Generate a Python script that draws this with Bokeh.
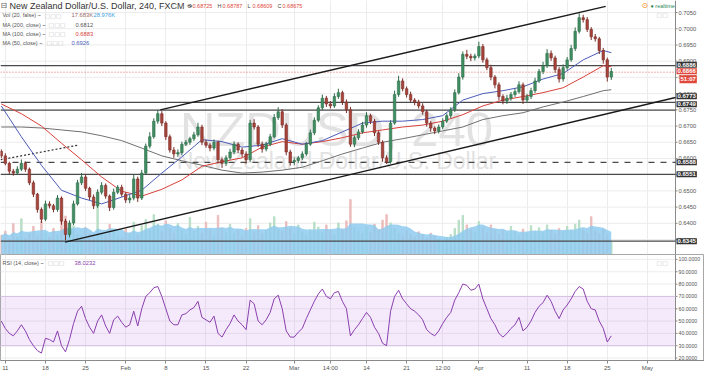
import pandas as pd
from bokeh.plotting import figure
from bokeh.layouts import column
from bokeh.models import Range1d, FixedTicker, Label, BoxAnnotation
from bokeh.core.properties import value
from bokeh.embed import file_html
from bokeh.resources import INLINE

# ---------------- data (12h candles) ----------------
first_open = 0.6622
closes = [
    0.6608, 0.6585, 0.6561, 0.6555, 0.6567, 0.6585, 0.6567, 0.6525, 0.6490, 0.6443,
    0.6413, 0.6460, 0.6454, 0.6443, 0.6478, 0.6407, 0.6366, 0.6401, 0.6460, 0.6525,
    0.6543, 0.6508, 0.6481, 0.6454, 0.6496, 0.6517, 0.6484, 0.6449, 0.6496, 0.6511,
    0.6490, 0.6472, 0.6478, 0.6537, 0.6478, 0.6555, 0.6638, 0.6667, 0.6715, 0.6738,
    0.6709, 0.6667, 0.6626, 0.6614, 0.6618, 0.6644, 0.6650, 0.6661, 0.6673, 0.6697,
    0.6650, 0.6641, 0.6632, 0.6650, 0.6596, 0.6585, 0.6602, 0.6620, 0.6644, 0.6626,
    0.6614, 0.6596, 0.6709, 0.6697, 0.6644, 0.6629, 0.6644, 0.6667, 0.6726, 0.6744,
    0.6703, 0.6620, 0.6590, 0.6594, 0.6602, 0.6614, 0.6644, 0.6679, 0.6718, 0.6756,
    0.6786, 0.6768, 0.6762, 0.6791, 0.6803, 0.6774, 0.6750, 0.6644, 0.6664, 0.6682,
    0.6703, 0.6732, 0.6715, 0.6679, 0.6650, 0.6602, 0.6590, 0.6709, 0.6797, 0.6839,
    0.6815, 0.6797, 0.6780, 0.6774, 0.6762, 0.6744, 0.6709, 0.6694, 0.6685, 0.6697,
    0.6715, 0.6732, 0.6750, 0.6803, 0.6851, 0.6921, 0.6915, 0.6910, 0.6916, 0.6945,
    0.6904, 0.6880, 0.6851, 0.6827, 0.6791, 0.6777, 0.6786, 0.6797, 0.6806, 0.6827,
    0.6780, 0.6791, 0.6809, 0.6839, 0.6868, 0.6886, 0.6924, 0.6910, 0.6874, 0.6845,
    0.6880, 0.6904, 0.6939, 0.6992, 0.7034, 0.7028, 0.6998, 0.6975, 0.6969, 0.6933,
    0.6904, 0.6851, 0.6868,
]
wick_up_pips = [
    6, 8, 5, 7, 9, 12, 6, 5, 7, 4,
    6, 10, 8, 6, 9, 5, 7, 8, 10, 9,
    12, 6, 5, 8, 9, 10, 6, 5, 11, 7,
    8, 6, 9, 12, 7, 10, 8, 14, 9, 12,
    8, 6, 7, 9, 10, 8, 7, 6, 9, 13,
    7, 8, 6, 9, 5, 7, 8, 10, 9, 6,
    7, 8, 10, 12, 6, 8, 7, 9, 11, 14,
    8, 6, 7, 9, 6, 8, 7, 10, 9, 8,
    11, 7, 9, 10, 12, 6, 8, 9, 7, 8,
    10, 11, 6, 7, 5, 6, 8, 9, 12, 16,
    8, 7, 9, 6, 7, 8, 6, 7, 5, 8,
    9, 7, 8, 10, 12, 9, 14, 8, 7, 15,
    8, 7, 9, 6, 8, 7, 10, 8, 9, 11,
    7, 8, 9, 10, 8, 12, 13, 9, 7, 8,
    10, 9, 11, 12, 14, 9, 8, 7, 9, 6,
    8, 7, 11,
]
wick_dn_pips = [
    7, 6, 9, 8, 5, 6, 8, 7, 9, 10,
    12, 6, 8, 9, 7, 11, 18, 9, 6, 5,
    7, 8, 9, 10, 6, 7, 8, 11, 7, 6,
    8, 9, 10, 7, 12, 6, 5, 7, 6, 8,
    9, 10, 8, 12, 9, 7, 6, 8, 7, 6,
    9, 8, 10, 7, 12, 14, 8, 6, 7, 9,
    10, 12, 6, 8, 9, 11, 7, 6, 5, 7,
    9, 10, 12, 11, 8, 7, 6, 5, 7, 6,
    7, 9, 8, 6, 7, 9, 10, 8, 9, 7,
    6, 8, 9, 10, 8, 12, 7, 6, 5, 7,
    8, 9, 7, 10, 8, 9, 11, 12, 10, 8,
    7, 6, 8, 7, 6, 8, 9, 10, 8, 7,
    9, 8, 10, 11, 12, 10, 9, 8, 7, 6,
    12, 9, 8, 7, 6, 8, 7, 9, 10, 11,
    8, 7, 6, 8, 7, 9, 8, 10, 9, 11,
    12, 14, 9,
]
volume_k = [
    28, 34, 22, 45, 26, 52, 24, 30, 41, 27,
    48, 31, 25, 38, 29, 50, 56, 33, 42, 30,
    27, 39, 30, 26, 70, 31, 28, 44, 35, 27,
    24, 37, 30, 47, 29, 42, 51, 36, 58, 44,
    33, 49, 38, 31, 45, 35, 29, 54, 34, 41,
    31, 47, 36, 28, 57, 38, 32, 44, 30, 35,
    27, 38, 52, 33, 42, 30, 35, 46, 55, 37,
    34, 48, 38, 30, 43, 33, 28, 36, 47, 40,
    32, 43, 35, 29, 46, 37, 49, 80, 40, 34,
    30, 39, 33, 44, 36, 50, 58, 46, 38, 31,
    28, 35, 30, 26, 33, 29, 24, 31, 27, 22,
    20, 25, 29, 38, 50, 57, 43, 36, 33, 48,
    39, 32, 43, 36, 29, 35, 31, 41, 33, 27,
    37, 31, 42, 34, 39, 32, 43, 35, 30, 38,
    33, 41, 35, 44, 50, 36, 31, 55, 34, 30,
    37, 28, 18,
]
rsi_values = [
    50, 44, 40, 38, 42, 47, 42, 35, 30, 26,
    24, 36, 35, 33, 42, 30, 25, 35, 48, 58,
    62, 52, 45, 40, 50, 55, 46, 40, 51, 54,
    49, 45, 47, 58, 46, 60, 70, 73, 77, 78,
    70, 60, 50, 47, 47, 55, 56, 59, 61, 66,
    53, 51, 49, 54, 40, 37, 43, 48, 55, 50,
    47, 43, 67, 64, 50, 47, 51, 57, 68, 71,
    60, 42, 37, 37, 41, 44, 52, 59, 66, 72,
    76, 70, 68, 73, 74, 66, 60, 38, 43, 47,
    52, 57, 53, 45, 40, 32, 30, 58, 70, 75,
    68, 64, 60, 58, 55, 51, 43, 40, 38, 42,
    48, 53, 57, 67, 73, 80, 79, 75, 76, 80,
    68, 60, 52, 47, 40, 37, 40, 44, 47, 53,
    42, 45, 50, 57, 62, 65, 71, 66, 58, 52,
    59, 63, 68, 74, 78, 76, 66, 60, 59, 50,
    44, 33, 38.02,
]
# moving averages read at every 5th candle
ma_candle = [0, 5, 10, 15, 20, 25, 30, 35, 40, 45, 50, 55, 60, 65, 70, 75,
             80, 85, 90, 95, 100, 105, 110, 115, 120, 125, 130, 135, 140, 145, 150, 152]
ma50 = [0.6762, 0.6667, 0.6579, 0.6502, 0.6478, 0.6460, 0.6481, 0.6502, 0.6555, 0.6605,
        0.6658, 0.6652, 0.6635, 0.6641, 0.6661, 0.6644, 0.6655, 0.6682, 0.6709, 0.6715,
        0.6715, 0.6720, 0.6732, 0.6780, 0.6800, 0.6809, 0.6821, 0.6845, 0.6862, 0.6904,
        0.6933, 0.6926]
ma100 = [0.6768, 0.6738, 0.6700, 0.6647, 0.6596, 0.6543, 0.6499, 0.6484, 0.6505, 0.6534,
         0.6576, 0.6590, 0.6602, 0.6635, 0.6652, 0.6644, 0.6652, 0.6664, 0.6679, 0.6688,
         0.6697, 0.6703, 0.6715, 0.6735, 0.6762, 0.6780, 0.6791, 0.6803, 0.6818, 0.6851,
         0.6886, 0.6883]
ma200 = [0.6697, 0.6697, 0.6694, 0.6688, 0.6682, 0.6670, 0.6655, 0.6632, 0.6608, 0.6593,
         0.6579, 0.6564, 0.6555, 0.6558, 0.6564, 0.6573, 0.6593, 0.6614, 0.6632, 0.6650,
         0.6661, 0.6673, 0.6685, 0.6697, 0.6720, 0.6732, 0.6741, 0.6759, 0.6774, 0.6791,
         0.6809, 0.6812]

tick_candle = [1, 11, 21, 31, 41, 51, 61, 73, 82, 91, 101, 110, 119, 131, 141, 151, 161]
tick_labels = ["11", "18", "25", "Feb", "8", "15", "22", "Mar", "14:00", "14", "21",
               "12:00", "Apr", "11", "18", "25", "May"]
price_ticks = [0.6350, 0.6400, 0.6450, 0.6500, 0.6550, 0.6600, 0.6650, 0.6700,
               0.6750, 0.6800, 0.6850, 0.6900, 0.6950, 0.7000, 0.7050]
rsi_ticks = [20, 30, 40, 50, 60, 70, 80, 90, 100]

levels = [0.6886, 0.6773, 0.6749, 0.6588, 0.6551, 0.6345]
level_dash = ["solid", "solid", "solid", "dashed", "solid", "solid"]
level_tag_shift = [1, 6, 6, 0, 0, 0]
last_price = 0.6866

upper_channel_x = [39.6, 150.6]
upper_channel_y = [0.6750, 0.7069]
lower_channel_x = [15.9, 168.0]
lower_channel_y = [0.6342, 0.6788]
dotted_trend_x = [-0.2, 19.1]
dotted_trend_y = [0.6596, 0.6641]

# ---------------- build ----------------
n = min(len(closes), len(wick_up_pips), len(wick_dn_pips), len(volume_k), len(rsi_values))
closes = closes[:n]
idx = list(range(n))
opens = [first_open] + closes[:-1]
highs = [max(o, c) + w * 0.0001 for o, c, w in zip(opens, closes, wick_up_pips[:n])]
lows = [min(o, c) - w * 0.0001 for o, c, w in zip(opens, closes, wick_dn_pips[:n])]
up = [c >= o for o, c in zip(opens, closes)]
vol_ma = pd.Series(volume_k[:n]).rolling(7, min_periods=1).mean().tolist()

FONT = "Liberation Sans"
W = 704            # full frame width (plot + price-scale strip)
AXW = 675          # pixel position of the price-scale line
X0, XAX = -0.2, 168.0
X1 = X0 + (XAX - X0) * W / AXW
H1 = 254
H2 = 106
RSI_LO, RSI_HI = 18.0, 104.0
GRID = "#ececec"
AXC = "#8a8a8a"


def txt(fig, x, y, s, color="#444444", size="5.5px", font=FONT, align="left",
        baseline="middle", level="annotation", style="normal"):
    fig.add_layout(Label(x=x, y=y, x_units="screen", y_units="screen", text=s,
                         text_color=color, text_font_size=size, text_font=font,
                         text_align=align, text_baseline=baseline, level=level,
                         text_font_style=style))


def price_scale(fig, ticks, labels, ylo, yhi, fsize):
    # grid lines, axis line, ticks and labels of the right-hand scale
    fig.segment(x0=[X0] * len(ticks), x1=[XAX] * len(ticks), y0=ticks, y1=ticks,
                line_color=GRID, line_width=1, level="underlay")
    fig.segment(x0=[XAX], x1=[XAX], y0=[ylo], y1=[yhi], line_color=AXC, line_width=1)
    fig.segment(x0=[XAX] * len(ticks), x1=[XAX + 0.5] * len(ticks), y0=ticks, y1=ticks,
                line_color=AXC, line_width=1)
    fig.text(x=[XAX] * len(ticks), y=ticks, text=labels, x_offset=3,
             text_font=value(FONT), text_font_size=fsize, text_color="#555555",
             text_baseline="middle", text_align="left")


def tag(fig, y, s, bg, shift=0, dx=1):
    fig.add_layout(Label(x=AXW + dx, y=y, x_units="screen", y_units="data", y_offset=shift,
                         text=s, text_color="white", text_font_size="6px", text_font=FONT,
                         text_font_style="bold", text_baseline="middle",
                         background_fill_color=bg, padding=1))


p = figure(frame_width=W, frame_height=H1, x_range=Range1d(X0, X1),
           y_range=Range1d(0.6304, 0.7087), output_backend="svg", toolbar_location=None,
           min_border_left=0, min_border_top=0, min_border_bottom=0, min_border_right=0)
p.axis.visible = False
p.ygrid.visible = False
p.xgrid.ticker = FixedTicker(ticks=tick_candle)
p.xgrid.grid_line_color = GRID
p.outline_line_color = None

price_scale(p, price_ticks, [f"{t:.4f}" for t in price_ticks], 0.6304, 0.7087, "5.8px")

# watermark
txt(p, 336, 126, "NZDUSD, 240", color="#e2e2e2", size="49px", align="center",
    baseline="alphabetic", level="underlay")
txt(p, 336, 94, "New Zealand Dollar/U.S. Dollar", color="#e2e2e2", size="23px",
    align="center", baseline="alphabetic", level="underlay")

# volume
p.extra_y_ranges = {"vol": Range1d(0, 370)}
p.vbar(x=idx, top=volume_k[:n], width=0.35, y_range_name="vol",
       color=["#b9dec6" if u else "#ecbcbc" for u in up])
p.varea(x=idx, y1=[0] * n, y2=vol_ma, y_range_name="vol",
        fill_color="#8fcbee", fill_alpha=0.85)

# horizontal levels (up to the price scale)
for lv, dash in zip(levels, level_dash):
    p.line([X0, XAX], [lv, lv], line_color="#4a4a4a", line_width=1.3, line_dash=dash)
p.line([X0, XAX], [last_price, last_price], line_color="#e06a5e", line_width=1,
       line_dash="1 2")

# channel lines
p.line(upper_channel_x, upper_channel_y, line_color="#1a1a1a", line_width=1.4)
p.line(lower_channel_x, lower_channel_y, line_color="#1a1a1a", line_width=1.4)
p.line(dotted_trend_x, dotted_trend_y, line_color="#333333", line_width=1.2,
       line_dash="2 2")

# moving averages
p.line(ma_candle, ma200, line_color="#707070", line_width=1)
p.line(ma_candle, ma100, line_color="#d8403a", line_width=1)
p.line(ma_candle, ma50, line_color="#4c5cb8", line_width=1)

# candles
body_top = [max(o, c) for o, c in zip(opens, closes)]
body_bot = [min(o, c) for o, c in zip(opens, closes)]
edge = ["#2f6b4a" if u else "#7a2e28" for u in up]
p.segment(x0=idx, y0=lows, x1=idx, y1=highs, line_color=edge, line_width=1)
p.vbar(x=idx, top=body_top, bottom=body_bot, width=0.62,
       fill_color=["#3f8f62" if u else "#a8443b" for u in up],
       line_color=edge, line_width=0.6)

# legend texts (top-left)
txt(p, 0, 249, "⊟", color="#666666", size="8px", font="DejaVu Sans")
txt(p, 9, 249, "New Zealand Dollar/U.S. Dollar, 240, FXCM ~", color="#333333", size="9px")
txt(p, 172, 249, "▢▢", color="#bbbbbb", size="6px", font="DejaVu Sans")
ohlc = [("O", "0.68725"), ("H", "0.68787"), ("L", "0.68609"), ("C", "0.68675")]
xx = 187
for k, v in ohlc:
    txt(p, xx, 249, k, color="#444444", size="5.5px")
    txt(p, xx + 5, 249, v, color="#e0483c", size="5.5px")
    xx += 30
rows = [("Vol (20, false) ~", 239.5, [("17.683K", "#a06a6a", 71), ("28.976K", "#3aa0de", 93)], 44),
        ("MA (200, close) ~", 230, [("0.6812", "#555555", 75)], 48),
        ("MA (100, close) ~", 221, [("0.6883", "#d8403a", 75)], 48),
        ("MA (50, close) ~", 212, [("0.6926", "#4c5cb8", 71)], 46)]
for name, yy, vals, ix in rows:
    txt(p, 2, yy, name, color="#555555", size="5.5px")
    txt(p, ix, yy, "▢▢▢", color="#c4c4c4", size="6px", font="DejaVu Sans")
    for s, col, vx in vals:
        txt(p, vx, yy, s, color=col, size="5.8px")

# top-right realtime badge
txt(p, 641, 249, "⊙", color="#f08a24", size="8px", font="DejaVu Sans")
txt(p, 650, 249, "● realtime", color="#2b8a57", size="5.5px")
txt(p, 656, 240, "▢▢", color="#c4c4c4", size="6px", font="DejaVu Sans")

# price tags on the price scale
for lv, sh in zip(levels, level_tag_shift):
    tag(p, lv, f"{lv:.4f}", "#333333", sh)
tag(p, last_price, f"{last_price:.4f}", "#e0483c", 1)
tag(p, last_price, "51:07", "#e0483c", -7, dx=4)

# ---------------- RSI panel ----------------
p2 = figure(frame_width=W, frame_height=H2, x_range=p.x_range,
            y_range=Range1d(RSI_LO, RSI_HI), output_backend="svg", toolbar_location=None,
            min_border_left=0, min_border_top=0, min_border_bottom=0, min_border_right=0)
p2.yaxis.visible = False
p2.ygrid.visible = False
p2.outline_line_color = "#a8a8a8"
p2.xgrid.ticker = FixedTicker(ticks=tick_candle)
p2.xgrid.grid_line_color = GRID
ax = p2.xaxis[0]
ax.ticker = FixedTicker(ticks=tick_candle)
ax.major_label_overrides = dict(zip(tick_candle, tick_labels))
ax.axis_line_color = AXC
ax.major_tick_line_color = AXC
ax.minor_tick_line_color = None
ax.major_tick_out = 3
ax.major_tick_in = 0
ax.major_label_text_font_size = "6px"
ax.major_label_text_color = "#555555"
ax.major_label_text_font = FONT
ax.major_label_standoff = 1

p2.add_layout(BoxAnnotation(bottom=30, top=70, left=X0, right=XAX, fill_color="#c27ee8",
                            fill_alpha=0.16, line_color=None, level="underlay"))
price_scale(p2, rsi_ticks, [f"{t:.4f}" for t in rsi_ticks], RSI_LO, RSI_HI, "5.2px")
p2.line([X0, XAX], [30, 30], line_color="#d3c0e0", line_width=1)
p2.line([X0, XAX], [70, 70], line_color="#d3c0e0", line_width=1)
p2.line(idx, rsi_values[:n], line_color="#8a3fae", line_width=1)

txt(p2, 2, 98, "RSI (14, close) ~", color="#555555", size="5.5px")
txt(p2, 47, 98, "▢▢▢", color="#c4c4c4", size="6px", font="DejaVu Sans")
txt(p2, 74, 98, "38.0232", color="#8a3fae", size="5.8px")
txt(p2, 656, 98, "▢▢", color="#c4c4c4", size="6px", font="DejaVu Sans")

layout = column(p, p2, spacing=0)
open("out.html", "w").write(file_html(layout, INLINE))
